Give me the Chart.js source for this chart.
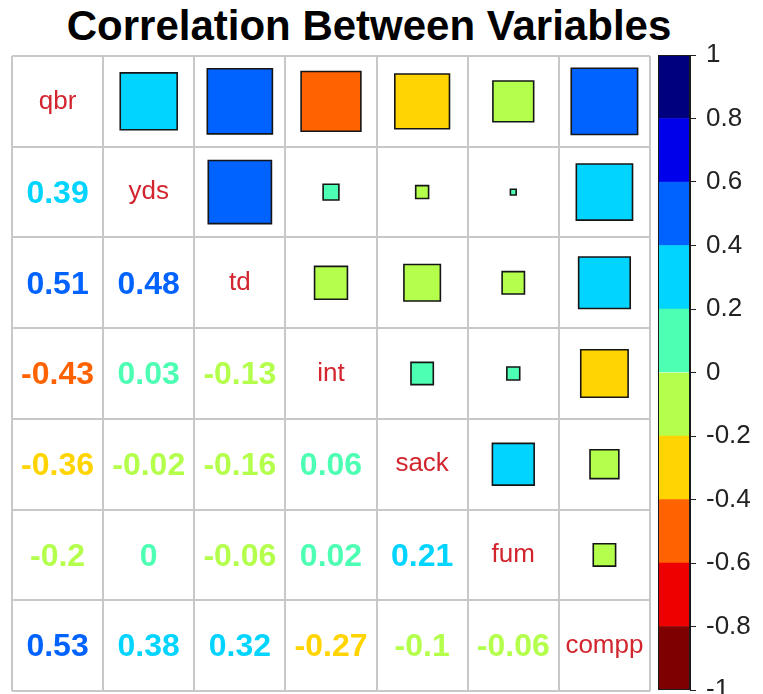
<!DOCTYPE html>
<html>
<head>
<meta charset="utf-8">
<title>Correlation Between Variables</title>
<script src="https://cdn.jsdelivr.net/npm/chart.js@4/dist/chart.umd.min.js"></script>
<style>
  html, body { margin: 0; padding: 0; background: #ffffff; overflow: hidden; }
  #wrap { position: relative; width: 763px; height: 694px; overflow: hidden; }
  #title {
    position: absolute; left: 0; top: 5px; width: 738px;
    text-align: center; font: bold 42px "Liberation Sans", Arial, sans-serif;
    line-height: 42px; color: #000; white-space: nowrap;
  }
  #grid { position: absolute; left: 0; top: 0; }
  #bar { position: absolute; left: 640px; top: 0; }
</style>
</head>
<body>
<div id="wrap">
  <div id="title">Correlation Between Variables</div>
  <canvas id="grid" width="660" height="694"></canvas>
  <canvas id="bar" width="123" height="725"></canvas>
</div>
<script>
// Variables (diagonal labels), in plotting order
const variables = ['qbr', 'yds', 'td', 'int', 'sack', 'fum', 'compp'];

// Correlation matrix rows (symmetric)
const rowQbr   = [1,     0.39,  0.51, -0.43, -0.36, -0.2,   0.53];
const rowYds   = [0.39,  1,     0.48,  0.03, -0.02,  0.004, 0.38];
const rowTd    = [0.51,  0.48,  1,    -0.13, -0.16, -0.06,  0.32];
const rowInt   = [-0.43, 0.03, -0.13,  1,     0.06,  0.02, -0.27];
const rowSack  = [-0.36, -0.02, -0.16, 0.06,  1,     0.21, -0.1];
const rowFum   = [-0.2,  0.004, -0.06, 0.02,  0.21,  1,    -0.06];
const rowCompp = [0.53,  0.38,  0.32, -0.27, -0.1,  -0.06,  1];
const corr = [rowQbr, rowYds, rowTd, rowInt, rowSack, rowFum, rowCompp];

// Colour key: ten bins from -1 to 1 (lowest first)
const binEdges = [-1, -0.8, -0.6, -0.4, -0.2, 0, 0.2, 0.4, 0.6, 0.8, 1];
const binColors = ['#7F0000', '#EE0000', '#FF6200', '#FFD400', '#B3FF4C',
                   '#4DFFB3', '#00D4FF', '#0062FF', '#0000EA', '#00007F'];
const colorTicks = [1, 0.8, 0.6, 0.4, 0.2, 0, -0.2, -0.4, -0.6, -0.8, -1];

const FONT = '"Liberation Sans", Arial, sans-serif';

function binColor(v) {
  let k = Math.floor((v + 1) / 0.2 + 1e-9);
  k = Math.max(0, Math.min(binColors.length - 1, k));
  return binColors[k];
}
function fmt(v) {
  return String(Number(Number(v).toFixed(2)));
}

// Upper triangle: one square per pair, area proportional to |r|
const squares = [];
for (let i = 0; i < variables.length; i++) {
  for (let j = i + 1; j < variables.length; j++) {
    squares.push({ x: j + 0.5, y: i + 0.5, v: corr[i][j] });
  }
}

function cellPx(chart) {
  const s = chart.scales.x;
  return s.getPixelForValue(1) - s.getPixelForValue(0);
}

// Lower triangle numbers and diagonal names
const cellText = {
  id: 'cellText',
  afterDatasetsDraw(chart) {
    const { ctx, scales: { x, y } } = chart;
    ctx.save();
    ctx.textAlign = 'center';
    ctx.textBaseline = 'middle';
    for (let i = 0; i < variables.length; i++) {
      for (let j = 0; j <= i; j++) {
        const px = x.getPixelForValue(j + 0.5);
        const py = y.getPixelForValue(i + 0.5);
        if (i === j) {
          ctx.font = '26px ' + FONT;
          ctx.fillStyle = '#D2252E';
          ctx.fillText(variables[i], px, py);
        } else {
          const v = corr[i][j];
          ctx.font = 'bold 32px ' + FONT;
          ctx.fillStyle = binColor(v);
          ctx.fillText(fmt(v), px, py + 2);
        }
      }
    }
    ctx.restore();
  }
};

const axisBase = {
  type: 'linear', min: 0, max: 7,
  ticks: { display: false, stepSize: 1 },
  grid: { color: '#C8C8C8', lineWidth: 2, drawTicks: false, tickLength: 0 },
  border: { display: false }
};

new Chart(document.getElementById('grid'), {
  type: 'scatter',
  data: {
    datasets: [{
      data: squares,
      pointStyle: 'rect',
      pointRadius: (c) => c.raw ? cellPx(c.chart) * Math.sqrt(Math.abs(c.raw.v)) / Math.SQRT2 : 0,
      pointHoverRadius: (c) => c.raw ? cellPx(c.chart) * Math.sqrt(Math.abs(c.raw.v)) / Math.SQRT2 : 0,
      pointBackgroundColor: (c) => c.raw ? binColor(c.raw.v) : '#fff',
      pointBorderColor: '#151515',
      pointBorderWidth: 1.6
    }]
  },
  options: {
    responsive: false,
    animation: false,
    events: [],
    layout: { autoPadding: false, padding: { left: 12, top: 56, right: 10, bottom: 3 } },
    plugins: { legend: { display: false }, tooltip: { enabled: false }, title: { display: false } },
    scales: {
      x: Object.assign({}, axisBase, { position: 'bottom', afterFit(s) { s.height = 0; } }),
      y: Object.assign({}, axisBase, { position: 'left', reverse: true, afterFit(s) { s.width = 0; } })
    }
  },
  plugins: [cellText]
});

// Colour key
const keyFrame = {
  id: 'keyFrame',
  afterDatasetsDraw(chart) {
    const { ctx, chartArea: a } = chart;
    ctx.save();
    ctx.strokeStyle = '#1a1a1a';
    ctx.lineWidth = 1;
    ctx.strokeRect(a.left + 0.5, a.top + 0.5, a.right - a.left - 1, a.bottom - a.top - 1);
    ctx.restore();
  }
};

new Chart(document.getElementById('bar'), {
  type: 'bar',
  data: {
    labels: ['r'],
    datasets: binColors.map((col, k) => ({
      data: [[binEdges[k], binEdges[k + 1]]],
      backgroundColor: col,
      borderWidth: 0,
      grouped: false,
      barPercentage: 1,
      categoryPercentage: 1
    }))
  },
  options: {
    responsive: false,
    animation: false,
    events: [],
    layout: { autoPadding: false, padding: { left: 18, top: 55, right: 0, bottom: 35 } },
    plugins: { legend: { display: false }, tooltip: { enabled: false } },
    scales: {
      x: { display: false },
      y: {
        position: 'right', min: -1, max: 1,
        afterBuildTicks(s) { s.ticks = colorTicks.map(v => ({ value: v })); },
        ticks: { callback: (v) => fmt(v), color: '#222', font: { family: FONT, size: 26 }, padding: 10 },
        grid: { drawOnChartArea: false, drawTicks: true, tickLength: 6, color: '#222', lineWidth: 1 },
        border: { display: true, color: '#1a1a1a', width: 1 },
        afterFit(s) { s.width = 73; }
      }
    }
  },
  plugins: [keyFrame]
});
</script>
</body>
</html>
